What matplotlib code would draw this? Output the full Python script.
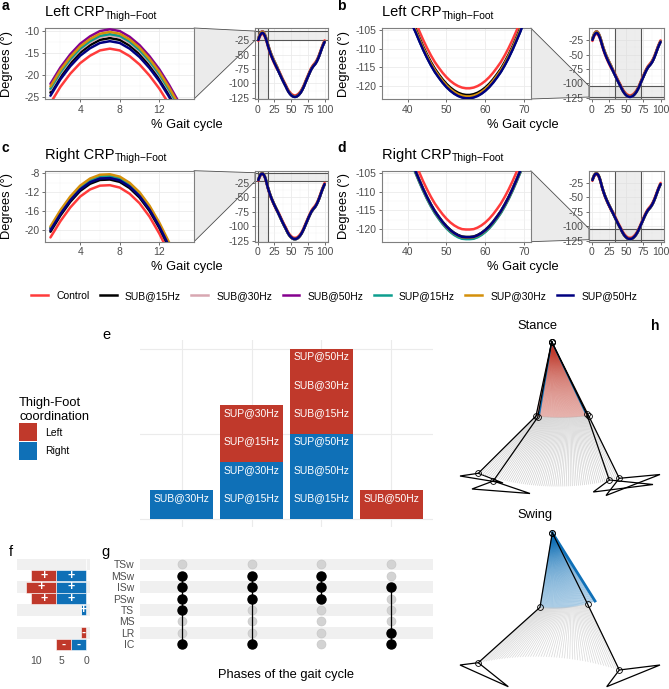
import matplotlib
matplotlib.use('Agg')
import matplotlib.pyplot as plt
import numpy as np
from matplotlib.lines import Line2D
from matplotlib.patches import Patch, Polygon

plt.rcParams['font.family'] = ['Liberation Sans', 'DejaVu Sans']
plt.rcParams['axes.unicode_minus'] = False

W, H = 669, 689

# ---- CRP data (a-d) ----
conditions = ['Control', 'SUB@15Hz', 'SUB@30Hz', 'SUB@50Hz', 'SUP@15Hz', 'SUP@30Hz', 'SUP@50Hz']
cond_colors = ['#FF3B3B', '#000000', '#D8A7B1', '#85008F', '#0D9E8F', '#D4900B', '#000080']
gait_pct = np.arange(1, 101)

left_base = [
    -24.0, -20.3, -17.3, -14.9, -13.2, -12.0, -11.6, -12.0, -13.3, -15.2,
    -17.7, -20.7, -24.3, -28.3, -32.6, -36.5, -40.2, -43.7, -47.0, -50.1,
    -53.0, -55.8, -58.5, -61.1, -63.6, -66.0, -68.4, -70.8, -73.2, -75.6,
    -78.0, -80.5, -83.0, -85.5, -88.0, -90.5, -93.0, -95.4, -97.7, -100.0,
    -102.3, -104.5, -107.0, -109.4, -111.6, -113.6, -115.4, -116.9, -118.3, -119.5,
    -120.5, -121.3, -121.9, -122.3, -122.5, -122.5, -122.3, -121.9, -121.3, -120.5,
    -119.5, -118.3, -116.9, -115.4, -113.6, -111.6, -109.4, -107.0, -104.5, -101.7,
    -98.8, -96.0, -93.2, -90.5, -87.8, -85.1, -82.4, -79.8, -77.3, -75.0,
    -73.0, -71.2, -69.6, -68.2, -66.8, -65.3, -63.6, -61.6, -59.3, -56.8,
    -54.0, -51.0, -47.8, -44.5, -41.2, -38.0, -35.0, -32.2, -29.6, -27.2,
]
right_base = [
    -20.0, -16.6, -13.7, -11.4, -9.9, -9.1, -9.0, -9.5, -10.8, -12.8,
    -15.6, -19.2, -23.4, -27.9, -32.4, -36.4, -40.1, -43.6, -46.9, -50.0,
    -52.9, -55.7, -58.4, -61.0, -63.5, -65.9, -68.3, -70.7, -73.1, -75.5,
    -77.9, -80.4, -82.9, -85.4, -87.9, -90.4, -92.9, -95.3, -97.6, -99.9,
    -102.1, -104.3, -106.8, -109.2, -111.4, -113.4, -115.2, -116.7, -118.1, -119.3,
    -120.3, -121.1, -121.7, -122.1, -122.2, -122.2, -122.1, -121.7, -121.1, -120.3,
    -119.3, -118.1, -116.7, -115.2, -113.4, -111.4, -109.2, -106.8, -104.3, -101.6,
    -98.8, -96.0, -93.3, -90.6, -87.9, -85.2, -82.6, -80.1, -77.7, -75.5,
    -73.6, -71.9, -70.4, -69.0, -67.6, -66.0, -64.2, -62.1, -59.8, -57.2,
    -54.4, -51.4, -48.2, -44.9, -41.6, -38.4, -35.3, -32.4, -29.7, -27.2,
]
# per-condition offsets around the early peak and the mid-cycle trough
left_peak_shift = [-2.4, 0.0, 0.6, 2.0, 0.9, 1.4, -0.7]
left_trough_shift = [1.8, 0.0, -0.6, -0.7, -0.8, -0.4, -0.9]
right_peak_shift = [-1.5, -0.3, 0.3, 0.4, 0.5, 0.8, 0.0]
right_trough_shift = [2.0, 0.0, -0.5, -0.4, -0.6, -0.2, -0.1]

# ---- e / f / g data ----
side_colors = {'Left': '#C0392B', 'Right': '#0F70B7'}
e_labels = [
    ['SUB@30Hz'],
    ['SUP@15Hz', 'SUP@30Hz', 'SUP@15Hz', 'SUP@30Hz'],
    ['SUB@15Hz', 'SUB@50Hz', 'SUP@50Hz', 'SUB@15Hz', 'SUB@30Hz', 'SUP@50Hz'],
    ['SUB@50Hz'],
]
e_sides = [
    ['Right'],
    ['Right', 'Right', 'Left', 'Left'],
    ['Right', 'Right', 'Right', 'Left', 'Left', 'Left'],
    ['Left'],
]
phases = ['IC', 'LR', 'MS', 'TS', 'PSw', 'ISw', 'MSw', 'TSw']
g_sets = [
    ['MSw', 'ISw', 'PSw', 'TS', 'IC'],
    ['MSw', 'ISw', 'PSw', 'IC'],
    ['MSw', 'ISw', 'PSw'],
    ['ISw', 'LR', 'IC'],
]
f_right = [3, 0, 0, 1, 6, 6, 6, 0]
f_left = [3, 1, 0, 0, 5, 6, 5, 0]
f_sign = ['-', '-', '', '+', '+', '+', '+', '']

fig = plt.figure(figsize=(W / 100, H / 100), dpi=100)


def px_axes(x0, y0, x1, y1):
    return fig.add_axes([x0 / W, 1 - y1 / H, (x1 - x0) / W, (y1 - y0) / H])


def style_gg(ax, xticks, yticks, xminor, yminor):
    ax.set_xticks(xticks)
    ax.set_yticks(yticks)
    ax.set_xticks(xminor, minor=True)
    ax.set_yticks(yminor, minor=True)
    ax.grid(True, which='major', color='#EBEBEB', lw=0.6)
    ax.grid(True, which='minor', color='#F3F3F3', lw=0.35)
    ax.set_axisbelow(True)
    for s in ax.spines.values():
        s.set_color('#7F7F7F')
        s.set_linewidth(0.8)
    ax.tick_params(which='major', length=2.5, width=0.5, color='#333333',
                   labelcolor='#4D4D4D', labelsize=7.5, pad=1.5)
    ax.tick_params(which='minor', length=0)


def curve(base, pk, tr):
    b = np.array(base)
    return np.where(gait_pct < 30, b + pk, b + tr)


panels = [
    dict(main=(45, 28, 194, 99), ins=(255, 28, 328, 99), base=left_base,
         pk=left_peak_shift, tr=left_trough_shift, xlim=(0.45, 15.5), ylim=(-25.45, -9.3),
         xt=[4, 8, 12], xm=[2, 6, 10, 14], yt=[-10, -15, -20, -25], ym=[-12.5, -17.5, -22.5]),
    dict(main=(381.7, 28, 530.7, 99), ins=(589, 28, 664, 99), base=left_base,
         pk=left_peak_shift, tr=left_trough_shift, xlim=(33.3, 71.7), ylim=(-123.6, -104.35),
         xt=[40, 50, 60, 70], xm=[35, 45, 55, 65], yt=[-105, -110, -115, -120],
         ym=[-107.5, -112.5, -117.5, -122.5]),
    dict(main=(45, 170.7, 194, 241.7), ins=(255, 170.7, 328, 241.7), base=right_base,
         pk=right_peak_shift, tr=right_trough_shift, xlim=(0.45, 15.5), ylim=(-22.4, -7.45),
         xt=[4, 8, 12], xm=[2, 6, 10, 14], yt=[-8, -12, -16, -20], ym=[-10, -14, -18, -22]),
    dict(main=(381.7, 170.7, 530.7, 241.7), ins=(589, 170.7, 664, 241.7), base=right_base,
         pk=right_peak_shift, tr=right_trough_shift, xlim=(33.3, 71.7), ylim=(-123.5, -104.3),
         xt=[40, 50, 60, 70], xm=[35, 45, 55, 65], yt=[-105, -110, -115, -120],
         ym=[-107.5, -112.5, -117.5, -122.5]),
]
ins_xlim = (-4.0, 105.0)
ins_ylim = (-127.0, -4.0)

for p in panels:
    main = px_axes(*p['main'])
    ins = px_axes(*p['ins'])
    for i, c in enumerate(conditions):
        y = curve(p['base'], p['pk'][i], p['tr'][i])
        main.plot(gait_pct, y, color=cond_colors[i], lw=1.8, solid_capstyle='round', zorder=3)
        ins.plot(gait_pct, y, color=cond_colors[i], lw=1.8, solid_capstyle='round', zorder=3)
    main.set_xlim(p['xlim'])
    main.set_ylim(p['ylim'])
    style_gg(main, p['xt'], p['yt'], p['xm'], p['ym'])
    ins.set_xlim(ins_xlim)
    ins.set_ylim(ins_ylim)
    style_gg(ins, [0, 25, 50, 75, 100], [-25, -50, -75, -100, -125],
             [12.5, 37.5, 62.5, 87.5], [-37.5, -62.5, -87.5, -112.5])
    ins.axvspan(*p['xlim'], color='#D9D9D9', alpha=0.45, lw=0, zorder=1)
    ins.axhspan(*p['ylim'], color='#D9D9D9', alpha=0.45, lw=0, zorder=1)
    for v in p['xlim']:
        ins.axvline(v, color='#555555', lw=0.8, zorder=1.5)
    for v in p['ylim']:
        ins.axhline(v, color='#555555', lw=0.8, zorder=1.5)
    p['main_ax'] = main
    p['ins_ax'] = ins

# ---- e ----
e_ax = px_axes(140, 340, 433, 527)
for i, (labs, sides) in enumerate(zip(e_labels, e_sides)):
    for j, (lab, side) in enumerate(zip(labs, sides)):
        e_ax.bar(i + 1, 1, bottom=j, width=0.9, color=side_colors[side], lw=0, zorder=2)
        e_ax.text(i + 1, j + 0.72, lab, color='white', ha='center', va='center',
                  fontsize=7.5, zorder=3)
e_ax.set_xlim(0.4, 4.6)
e_ax.set_ylim(-0.3, 6.3)
e_ax.set_xticks([1, 2, 3, 4])
e_ax.set_yticks([0, 3, 6])
e_ax.grid(True, color='#EBEBEB', lw=0.8)
e_ax.set_axisbelow(True)
e_ax.tick_params(length=0, labelbottom=False, labelleft=False)
for s in e_ax.spines.values():
    s.set_visible(False)

# ---- f ----
f_ax = px_axes(16.7, 558, 90, 650.6)
g_ax = px_axes(140, 558, 433, 650.6)
rows = np.arange(len(phases))
for ax in (f_ax, g_ax):
    for k in rows[1::2]:
        ax.axhspan(k - 0.5, k + 0.5, color='#F0F0F0', lw=0, zorder=0)
    ax.set_ylim(-0.55, 7.55)
    for s in ax.spines.values():
        s.set_visible(False)

f_ax.barh(rows, f_right, height=0.95, color=side_colors['Right'], edgecolor='white', lw=0.4, zorder=2)
f_ax.barh(rows, f_left, left=f_right, height=0.95, color=side_colors['Left'], edgecolor='white', lw=0.4, zorder=2)
for r in rows:
    if f_right[r] > 0:
        f_ax.text(f_right[r] / 2, r, f_sign[r], color='white', ha='center', va='center',
                  fontsize=9, fontweight='bold', zorder=3)
    if f_left[r] > 0:
        f_ax.text(f_right[r] + f_left[r] / 2, r, f_sign[r], color='white', ha='center', va='center',
                  fontsize=9, fontweight='bold', zorder=3)
f_ax.set_xlim(13.9, -0.8)
f_ax.set_xticks([10, 5, 0])
f_ax.set_yticks([])
f_ax.tick_params(length=0, labelsize=7.5, labelcolor='#4D4D4D', pad=4)

# ---- g ----
for i, members in enumerate(g_sets):
    ys = [phases.index(m) for m in members]
    g_ax.scatter([i + 1] * len(rows), rows, s=42, color='#D3D3D3', edgecolor='#C4C4C4', lw=0.4, zorder=2)
    g_ax.plot([i + 1, i + 1], [min(ys), max(ys)], color='black', lw=0.9, zorder=3)
    g_ax.scatter([i + 1] * len(ys), ys, s=42, color='black', zorder=4)
g_ax.set_xlim(0.4, 4.6)
g_ax.set_xticks([])
g_ax.set_yticks(rows)
g_ax.set_yticklabels(phases)
g_ax.tick_params(length=0, labelsize=7.5, labelcolor='#4D4D4D', pad=4)

# ---- legends ----
handles = [Line2D([], [], color=c, lw=1.8) for c in cond_colors]
fig.legend(handles, conditions, loc='center', bbox_to_anchor=(0.5, 1 - 296 / H), ncol=7,
           frameon=False, fontsize=7.5, handlelength=1.6, handletextpad=0.8, columnspacing=1.0)
side_handles = [Patch(facecolor=side_colors['Left']), Patch(facecolor=side_colors['Right'])]
fig.legend(side_handles, ['Left', 'Right'], title='Thigh-Foot\ncoordination', loc='upper left',
           bbox_to_anchor=(19 / W, 1 - 397 / H), frameon=False, fontsize=7.5, title_fontsize=9.3,
           handlelength=1.75, handleheight=2.3, labelspacing=0.05, alignment='left',
           borderpad=0, borderaxespad=0, handletextpad=0.8)

# ---- canvas in pixel coordinates: titles, zoom connectors, h ----
cv = fig.add_axes([0, 0, 1, 1])
cv.set_xlim(0, W)
cv.set_ylim(H, 0)
cv.axis('off')
cv.patch.set_visible(False)
cv.set_zorder(-1)


def to_cv(ax, pt, axes_coords=False):
    tr = ax.transAxes if axes_coords else ax.transData
    return cv.transData.inverted().transform(tr.transform(pt))


for p in panels:
    m, ins = p['main_ax'], p['ins_ax']
    pts = [to_cv(m, (1, 1), True), to_cv(ins, (ins_xlim[0], p['ylim'][1])),
           to_cv(ins, (ins_xlim[0], p['ylim'][0])), to_cv(m, (1, 0), True)]
    cv.add_patch(Polygon(pts, closed=True, fc='#EBEBEB', ec='#4D4D4D', lw=0.6))

renderer = fig.canvas.get_renderer()
for tag, tx, ty, title, lx in [('a', 2, 10, 'Left CRP', 45), ('b', 337, 10, 'Left CRP', 382),
                               ('c', 2, 152, 'Right CRP', 45), ('d', 337, 152, 'Right CRP', 382)]:
    cv.text(tx, ty, tag, fontsize=10, fontweight='bold', va='baseline')
    t = cv.text(lx, ty + 6.5, title, fontsize=10.5, va='baseline')
    x_end = to_cv(cv, (t.get_window_extent(renderer).x1, 0))
    x_end = cv.transData.inverted().transform((t.get_window_extent(renderer).x1, 0))[0]
    cv.text(x_end + 0.5, ty + 9, 'Thigh\u2212Foot', fontsize=7.5, va='baseline')
for yc in (64, 206):
    cv.text(7, yc, 'Degrees (°)', rotation=90, fontsize=9.3, ha='center', va='center')
    cv.text(344, yc, 'Degrees (°)', rotation=90, fontsize=9.3, ha='center', va='center')
for yc in (125, 267):
    cv.text(186.5, yc, '% Gait cycle', fontsize=9.3, ha='center', va='center')
    cv.text(523, yc, '% Gait cycle', fontsize=9.3, ha='center', va='center')

cv.text(106.7, 335, 'e', fontsize=10.5, ha='center', va='center')
cv.text(11, 552, 'f', fontsize=10.5, ha='center', va='center')
cv.text(106, 552, 'g', fontsize=10.5, ha='center', va='center')
cv.text(286.5, 675, 'Phases of the gait cycle', fontsize=9.3, ha='center', va='center')
cv.text(655, 326, 'h', fontsize=10, fontweight='bold', ha='center', va='center')
cv.text(517, 326, 'Stance', fontsize=9.3, va='center')
cv.text(517, 515, 'Swing', fontsize=9.3, va='center')


# ---- h: stick figures (pixel coordinates) ----
def bezier(p0, c, p1, n):
    t = np.linspace(0, 1, n)[:, None]
    return (1 - t) ** 2 * np.array(p0) + 2 * (1 - t) * t * np.array(c) + t ** 2 * np.array(p1)


st_hip = (551.7, 341.7)
st_knee_path = [(536.0, 416.0), (562.0, 419.0), (588.5, 415.5)]
st_ankle_path = [(478.3, 473.3), (548.8, 496.2), (619.3, 478.3)]
st_legs = [
    [st_hip, (536.0, 416.0), (478.3, 473.3)],
    [st_hip, (537.7, 417.3), (493.3, 481.0)],
    [st_hip, (586.7, 414.0), (609.3, 480.0)],
    [st_hip, (588.5, 415.5), (619.3, 478.3)],
]
st_feet = [
    [(478.3, 473.3), (460.0, 476.0), (503.0, 483.0)],
    [(493.3, 481.0), (472.0, 489.0), (530.0, 493.5)],
    [(609.3, 480.0), (593.3, 492.0), (653.0, 484.5)],
    [(619.3, 478.3), (606.0, 495.5), (660.0, 474.5)],
]
sw_hip = (552.3, 532.7)
sw_thigh_path = [(540.0, 607.3), (566.0, 611.0), (595.0, 601.0)]
sw_knee_path = [(540.0, 607.3), (564.0, 609.0), (587.7, 604.3)]
sw_ankle_path = [(478.3, 662.7), (549.0, 647.0), (619.3, 670.0)]
sw_legs = [
    [sw_hip, (540.0, 607.3), (478.3, 662.7)],
    [sw_hip, (587.7, 604.3), (619.3, 670.0)],
]
sw_feet = [
    [(478.3, 662.7), (460.0, 665.0), (508.3, 686.7)],
    [(619.3, 670.0), (660.0, 665.0), (606.7, 686.7)],
]

kn = bezier(*st_knee_path, 70)
an = bezier(*st_ankle_path, 70)
for k, a in zip(kn, an):
    cv.plot([st_hip[0], k[0]], [st_hip[1], k[1]], color=side_colors['Left'], alpha=0.45, lw=0.5)
    cv.plot([k[0], a[0]], [k[1], a[1]], color='#BDBDBD', alpha=0.7, lw=0.5)
for end in [(539.5, 414.0), (585.0, 412.0)]:
    cv.plot([st_hip[0], end[0]], [st_hip[1], end[1]], color=side_colors['Right'], lw=1.1)

th = bezier(*sw_thigh_path, 55)
kn = bezier(*sw_knee_path, 55)
an = bezier(*sw_ankle_path, 55)
for t, k, a in zip(th, kn, an):
    cv.plot([sw_hip[0], t[0]], [sw_hip[1], t[1]], color=side_colors['Right'], alpha=0.5, lw=0.5)
    cv.plot([k[0], a[0]], [k[1], a[1]], color='#C8C8C8', alpha=0.7, lw=0.5)
cv.plot([sw_hip[0], 595.0], [sw_hip[1], 601.0], color=side_colors['Right'], lw=2.0)

for leg in st_legs + sw_legs:
    xs, ys = zip(*leg)
    cv.plot(xs, ys, color='black', lw=0.9)
    cv.plot(xs, ys, 'o', ms=4.2, mfc='none', mec='black', mew=0.6)
for foot in st_feet + sw_feet:
    cv.add_patch(Polygon(foot, closed=True, fill=False, ec='black', lw=0.9))

fig.savefig('out.png', dpi=100)
